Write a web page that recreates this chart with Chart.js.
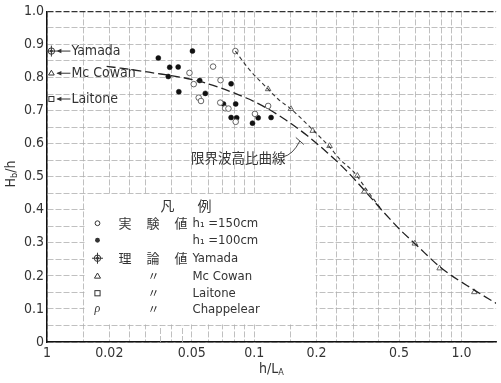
<!DOCTYPE html>
<html><head><meta charset="utf-8">
<script src="https://cdn.jsdelivr.net/npm/chart.js@4"></script>
<style>html,body{margin:0;padding:0;background:#fff;overflow:hidden}</style>
</head><body>
<canvas id="c" width="501" height="383"></canvas>
<script>
// ---- data ----
const xGridValues = [0.01,0.015,0.02,0.025,0.03,0.04,0.05,0.06,0.07,0.08,0.09,0.1,0.15,0.2,0.25,0.3,0.4,0.5,0.6,0.7,0.8,0.9,1.0];
const xBandOnlyValues = [0.035,0.045];
const xLabelValues = [0.01,0.02,0.05,0.1,0.2,0.5,1.0];
const xLabelTexts  = ['1','0.02','0.05','0.1','0.2','0.5','1.0'];
const yLabelValues = [0,0.1,0.2,0.3,0.4,0.5,0.6,0.7,0.8,0.9,1.0];
const yLabelTexts  = ['0','0.1','0.2','0.3','0.4','0.5','0.6','0.7','0.8','0.9','1.0'];

// critical wave height ratio curve (long dashes)
const limitCurveX = [0.0194,0.0311,0.054,0.0916,0.1167,0.1439,0.1813,0.226,0.2818,0.3512,0.4142,0.505,0.6091,0.8023,1.154,1.471];
const limitCurveY = [0.834,0.816,0.789,0.738,0.705,0.669,0.623,0.572,0.515,0.449,0.398,0.340,0.292,0.223,0.157,0.117];
// theoretical curve (short dashes)
const theoryCurveX = [0.0811,0.0936,0.1167,0.1302,0.1503,0.1959,0.231,0.2579,0.3043,0.3512,0.4142];
const theoryCurveY = [0.880,0.828,0.765,0.735,0.705,0.636,0.590,0.554,0.512,0.458,0.398];
// experimental h1 = 100cm (filled)
const exp100X = [0.03445,0.0391,0.04296,0.05034,0.03848,0.05456,0.04327,0.05808,0.07735,0.07108,0.08138,0.07735,0.08229,0.0981,0.1045,0.1206];
const exp100Y = [0.859,0.831,0.832,0.880,0.803,0.791,0.757,0.752,0.781,0.720,0.720,0.679,0.678,0.662,0.678,0.679];
// experimental h1 = 150cm (open)
const exp150X = [0.0487,0.05107,0.05396,0.05535,0.06331,0.0811,0.06877,0.06855,0.07243,0.0751,0.0814,0.1008,0.1167];
const exp150Y = [0.814,0.780,0.739,0.729,0.833,0.880,0.792,0.724,0.707,0.706,0.666,0.690,0.714];
// theoretical points on the curves
const theoryPtsX = [0.1167,0.1503,0.1916,0.231,0.3145,0.3397,0.5957,0.7848,1.154];
const theoryPtsY = [0.765,0.705,0.639,0.593,0.503,0.455,0.298,0.223,0.151];
// reference values marked at the left edge
const refNames  = ['Yamada','Mc Cowan','Laitone'];
const refValues = [0.88,0.813,0.735];

const pts = (xs,ys)=>xs.map((x,i)=>({x, y:ys[i]}));
const FONT = "'Liberation Sans Narrow','DejaVu Sans Condensed','Roboto Condensed',sans-serif";
const CJK = "'Noto Sans CJK JP','Noto Sans CJK SC',sans-serif";
const TXT = '#333';

function drawYamada(ctx,x,y){
  ctx.beginPath(); ctx.arc(x,y,3.2,0,Math.PI*2); ctx.stroke();
  ctx.beginPath(); ctx.arc(x,y,1.4,0,Math.PI*2); ctx.fill();
  ctx.beginPath(); ctx.moveTo(x,y-5.5); ctx.lineTo(x,y+5.5); ctx.moveTo(x-5.5,y); ctx.lineTo(x+5.5,y); ctx.stroke();
}
function drawTri(ctx,x,y,s){
  ctx.beginPath(); ctx.moveTo(x,y-s); ctx.lineTo(x+s*0.95,y+s*0.6); ctx.lineTo(x-s*0.95,y+s*0.6); ctx.closePath(); ctx.stroke();
}
function drawSq(ctx,x,y,s){ ctx.strokeRect(x-s,y-s,2*s,2*s); }
function drawSub(ctx, parts, x, y, size){
  let cx = x;
  for (const [t,sub] of parts){
    ctx.font = (sub? Math.round(size*0.62): size)+'px '+FONT;
    ctx.fillText(t, cx, sub? y+size*0.25 : y);
    cx += ctx.measureText(t).width;
  }
}
function widthSub(ctx, parts, size){
  let w=0;
  for (const [t,sub] of parts){ ctx.font=(sub? Math.round(size*0.62): size)+'px '+FONT; w+=ctx.measureText(t).width; }
  return w;
}

const decor = {
  id:'decor',
  beforeDatasetsDraw(chart){
    const {ctx, scales:{x,y}} = chart;
    ctx.save();
    ctx.strokeStyle='#b0b0b0'; ctx.lineWidth=0.8; ctx.setLineDash([6,2]);
    for (const v of xBandOnlyValues){
      const px = Math.round(x.getPixelForValue(v))+0.5;
      ctx.beginPath(); ctx.moveTo(px,y.getPixelForValue(0)); ctx.lineTo(px,y.getPixelForValue(0.05)); ctx.stroke();
    }
    ctx.setLineDash([]);
    const l = x.getPixelForValue(0.015), r = x.getPixelForValue(0.2);
    const t = y.getPixelForValue(0.45), b = y.getPixelForValue(0.05);
    ctx.fillStyle='#fff';
    ctx.fillRect(l+1,t+1,r-l-2,b-t-2);
    ctx.restore();
  },
  afterDatasetsDraw(chart){
    const {ctx, scales:{x,y}} = chart;
    ctx.save();
    ctx.fillStyle=TXT; ctx.strokeStyle='#333'; ctx.lineWidth=1;
    ctx.textBaseline='middle'; ctx.textAlign='left';
    const l = x.getPixelForValue(0.015), t = y.getPixelForValue(0.45);
    ctx.font='14px '+CJK;
    ctx.fillText('凡', l+77, t+12);
    ctx.fillText('例', l+114, t+12);
    const rows = [t+30,t+47,t+65,t+83,t+100,t+116];
    const sx = l+14, c1 = l+35, c2 = l+64, c3 = l+109;
    ctx.beginPath(); ctx.arc(sx,rows[0],2.4,0,Math.PI*2); ctx.stroke();
    ctx.beginPath(); ctx.arc(sx,rows[1],2.4,0,Math.PI*2); ctx.fill();
    drawYamada(ctx,sx,rows[2]);
    drawTri(ctx,sx,rows[3],3.2);
    drawSq(ctx,sx,rows[4],2.6);
    ctx.font='italic 12px serif'; ctx.textAlign='center'; ctx.fillText('ρ', sx, rows[5]); ctx.textAlign='left';
    ctx.font='13px '+CJK;
    const j1=['実','験','値'], j2=['理','論','値'];
    [0,1,2].forEach(i=>{ ctx.fillText(j1[i], c1+i*28, rows[0]); ctx.fillText(j2[i], c1+i*28, rows[2]); });
    ctx.font='12px '+CJK;
    [3,4,5].forEach(i=>ctx.fillText('〃', c2, rows[i]));
    ctx.font='13px '+FONT;
    ctx.fillText('h\u2081 =150cm', c3, rows[0]);
    ctx.fillText('h\u2081 =100cm', c3, rows[1]);
    ctx.fillText('Yamada', c3, rows[2]);
    ctx.fillText('Mc Cowan', c3, rows[3]);
    ctx.fillText('Laitone', c3, rows[4]);
    ctx.fillText('Chappelear', c3, rows[5]);
    const ax = x.getPixelForValue(0.0105);
    refValues.forEach((v,i)=>{
      const py = y.getPixelForValue(v);
      if(i===0) drawYamada(ctx,ax,py); else if(i===1) drawTri(ctx,ax,py,3); else drawSq(ctx,ax,py,2.5);
      ctx.beginPath(); ctx.moveTo(ax+6,py); ctx.lineTo(ax+19,py); ctx.stroke();
      ctx.beginPath(); ctx.moveTo(ax+5,py); ctx.lineTo(ax+10,py-2.2); ctx.lineTo(ax+10,py+2.2); ctx.closePath(); ctx.fill();
      ctx.font='14px '+FONT;
      ctx.fillText(refNames[i], ax+20, py);
    });
    ctx.font='13.5px '+CJK;
    const tx = x.getPixelForValue(0.0495), ty = y.getPixelForValue(0.557);
    ctx.fillText('限界波高比曲線', tx, ty);
    const p0x = x.getPixelForValue(0.1376), p0y = y.getPixelForValue(0.56);
    const p1x = x.getPixelForValue(0.166), p1y = y.getPixelForValue(0.608);
    ctx.lineWidth=0.9;
    ctx.beginPath(); ctx.moveTo(p0x,p0y); ctx.quadraticCurveTo(p0x+10,p0y-2,p1x,p1y); ctx.stroke();
    ctx.beginPath(); ctx.moveTo(p1x-4,p1y-3.5); ctx.lineTo(p1x+4,p1y+3.5); ctx.stroke();
    ctx.restore();
  },
  afterDraw(chart){
    const {ctx} = chart;
    ctx.save(); ctx.fillStyle=TXT; ctx.textBaseline='middle';
    drawSub(ctx, [['h/L',false],['A',true]], 259, 369, 14);
    const parts=[['H',false],['b',true],['/h',false]];
    ctx.translate(11,174); ctx.rotate(-Math.PI/2);
    const w = widthSub(ctx, parts, 14);
    drawSub(ctx, parts, -w/2, 0, 14);
    ctx.restore();
  }
};

new Chart(document.getElementById('c'), {
  type:'scatter',
  data:{ datasets:[
    {data:pts(limitCurveX,limitCurveY), showLine:true, borderColor:'#222', borderWidth:1.3, borderDash:[9,4], pointRadius:0, cubicInterpolationMode:'monotone', fill:false},
    {data:pts(theoryCurveX,theoryCurveY), showLine:true, borderColor:'#333', borderWidth:1.1, borderDash:[4,3], pointRadius:0, cubicInterpolationMode:'monotone', fill:false},
    {data:pts(theoryPtsX,theoryPtsY), pointStyle:'triangle', pointRadius:3.2, backgroundColor:'#fff', borderColor:'#555', borderWidth:0.9},
    {data:pts(exp150X,exp150Y), pointStyle:'circle', pointRadius:2.8, backgroundColor:'#fff', borderColor:'#555', borderWidth:0.9},
    {data:pts(exp100X,exp100Y), pointStyle:'circle', pointRadius:2.5, backgroundColor:'#111', borderColor:'#111', borderWidth:0.5}
  ]},
  options:{
    responsive:false, animation:false, devicePixelRatio:1,
    layout:{padding:{top:10,left:0,right:0,bottom:0}},
    plugins:{legend:{display:false}, tooltip:{enabled:false}},
    scales:{
      x:{ type:'logarithmic', min:0.01, max:1.47,
        afterBuildTicks:s=>{ s.ticks = xGridValues.map(v=>({value:v})); },
        afterFit:s=>{ s.height = 41; },
        ticks:{ autoSkip:false, maxRotation:0, minRotation:0, padding:3, color:TXT, font:{family:FONT,size:14},
          callback:(v)=>{ const i = xLabelValues.findIndex(t=>Math.abs(t-v)<1e-9); return i>=0 ? xLabelTexts[i] : ''; } },
        grid:{ color:'#b0b0b0', lineWidth:0.8, drawTicks:false },
        border:{ color:'#111', width:1.5, dash:[6,2] }
      },
      y:{ type:'linear', min:0, max:1,
        afterBuildTicks:s=>{ const a=[]; for(let i=0;i<=20;i++) a.push({value:Math.round(i*5)/100}); s.ticks=a; },
        afterFit:s=>{ s.width = 47; },
        ticks:{ autoSkip:false, padding:3, color:TXT, font:{family:FONT,size:14},
          callback:(v)=>{ const i = yLabelValues.findIndex(t=>Math.abs(t-v)<1e-9); return i>=0 ? yLabelTexts[i] : ''; } },
        grid:{ color:(c)=> (c.tick && c.tick.value===1) ? '#333' : '#b0b0b0', lineWidth:(c)=> (c.tick && c.tick.value===1) ? 1.2 : 0.8, drawTicks:false },
        border:{ color:'#111', width:1.5, dash:[6,2] }
      }
    }
  },
  plugins:[decor]
});
</script>
</body></html>
